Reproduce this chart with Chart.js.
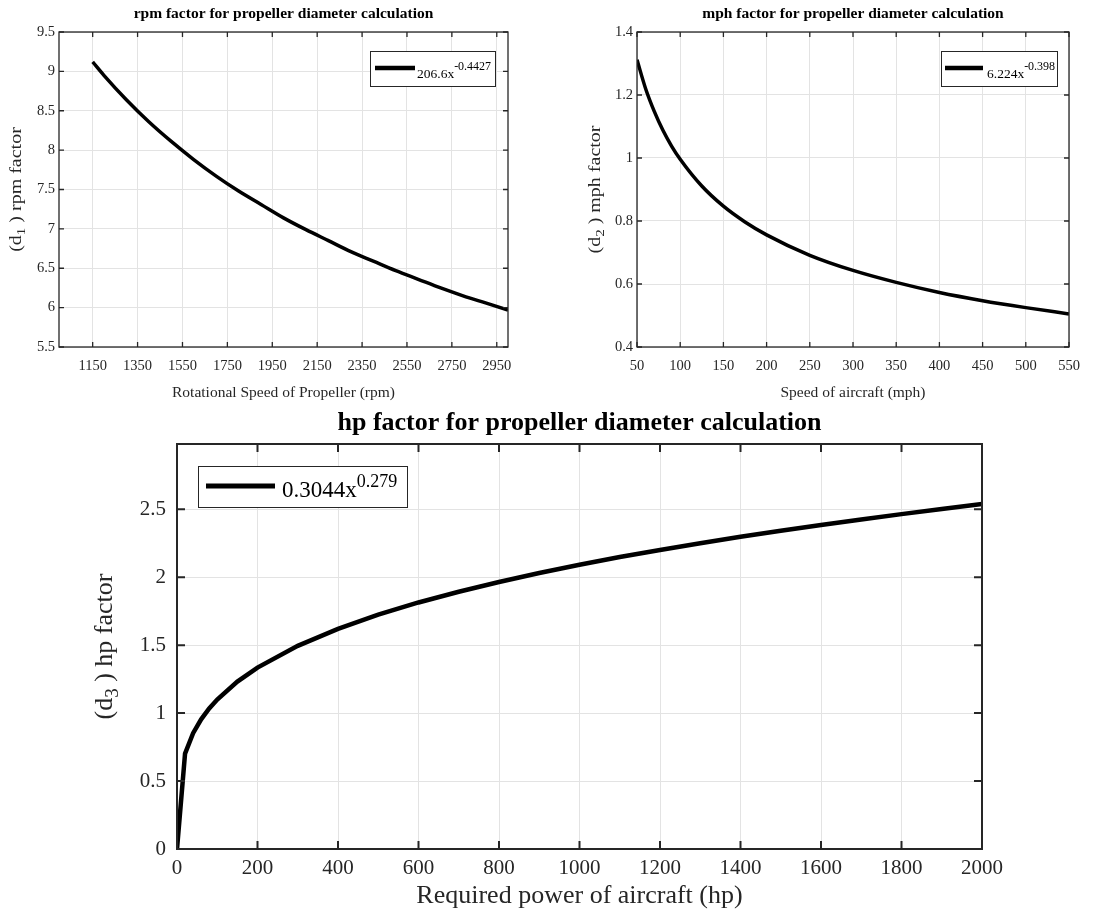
<!DOCTYPE html>
<html>
<head>
<meta charset="utf-8">
<script src="https://cdn.jsdelivr.net/npm/chart.js@4.4.1/dist/chart.umd.min.js"></script>
<style>
  body { margin:0; background:#fff; width:1095px; height:913px; position:relative; overflow:hidden; }
  canvas { position:absolute; }
</style>
</head>
<body>
<canvas id="c1" width="548" height="410" style="left:0;top:0"></canvas>
<canvas id="c2" width="547" height="410" style="left:548px;top:0"></canvas>
<canvas id="c3" width="1095" height="508" style="left:0;top:405px"></canvas>
<script>
// ---------- Data ----------
const rpmX = [1150,1200,1300,1400,1500,1600,1700,1800,1900,2000,2100,2200,2300,2400,2500,2600,2700,2800,2900,3000];
const rpmY = [9.12,8.95,8.64,8.36,8.11,7.88,7.67,7.48,7.31,7.14,6.99,6.85,6.71,6.59,6.47,6.36,6.25,6.15,6.06,5.97];
const rpmXTicks = [1150,1350,1550,1750,1950,2150,2350,2550,2750,2950];
const rpmYTicks = [5.5,6,6.5,7,7.5,8,8.5,9,9.5];

const mphX = [50,60,70,80,90,100,125,150,175,200,250,300,350,400,450,500,550];
const mphY = [1.312,1.220,1.148,1.088,1.038,0.996,0.911,0.847,0.797,0.756,0.691,0.643,0.605,0.573,0.547,0.525,0.505];
const mphXTicks = [50,100,150,200,250,300,350,400,450,500,550];
const mphYTicks = [0.4,0.6,0.8,1,1.2,1.4];

const hpX = [0,20,40,60,80,100,150,200,300,400,500,600,700,800,900,1000,1100,1200,1300,1400,1500,1600,1700,1800,1900,2000];
const hpY = [0,0.702,0.852,0.954,1.034,1.100,1.232,1.335,1.495,1.620,1.724,1.814,1.893,1.965,2.031,2.091,2.148,2.200,2.250,2.297,2.342,2.384,2.425,2.464,2.502,2.538];
const hpXTicks = [0,200,400,600,800,1000,1200,1400,1600,1800,2000];
const hpYTicks = [0,0.5,1,1.5,2,2.5];

Chart.defaults.font.family = '"Liberation Serif", "Times New Roman", serif';
Chart.defaults.color = '#262626';

// ---------- MATLAB-ish box, inward ticks, legend, y label ----------
const matlabPlugin = {
  id: 'matlab',
  afterDraw(chart, args, o) {
    const ctx = chart.ctx, a = chart.chartArea;
    const xs = chart.scales.x, ys = chart.scales.y;
    ctx.save();
    ctx.strokeStyle = '#262626';
    ctx.lineWidth = o.axisWidth;
    ctx.beginPath();
    xs.ticks.forEach(t => {
      const px = xs.getPixelForValue(t.value);
      ctx.moveTo(px, a.bottom); ctx.lineTo(px, a.bottom - o.tickLen);
      ctx.moveTo(px, a.top); ctx.lineTo(px, a.top + o.tickLen);
    });
    ys.ticks.forEach(t => {
      const py = ys.getPixelForValue(t.value);
      ctx.moveTo(a.left, py); ctx.lineTo(a.left + o.tickLen, py);
      ctx.moveTo(a.right, py); ctx.lineTo(a.right - o.tickLen, py);
    });
    ctx.stroke();
    ctx.strokeRect(a.left, a.top, a.right - a.left, a.bottom - a.top);

    // legend box
    const L = o.legend;
    const bx = a.left + L.left, by = a.top + L.top;
    ctx.fillStyle = '#fff';
    ctx.fillRect(bx, by, L.w, L.h);
    ctx.strokeStyle = '#262626'; ctx.lineWidth = 1;
    ctx.strokeRect(bx + 0.5, by + 0.5, L.w, L.h);
    ctx.strokeStyle = '#000'; ctx.lineWidth = L.lineWidth;
    ctx.beginPath();
    ctx.moveTo(bx + L.lineX0, by + L.lineY);
    ctx.lineTo(bx + L.lineX1, by + L.lineY);
    ctx.stroke();
    ctx.fillStyle = '#000';
    ctx.textAlign = 'left'; ctx.textBaseline = 'alphabetic';
    ctx.font = L.size + 'px "Liberation Serif"';
    ctx.fillText(L.text, bx + L.textX, by + L.baseline);
    const tw = ctx.measureText(L.text).width;
    ctx.font = L.supSize + 'px "Liberation Serif"';
    ctx.fillText(L.sup, bx + L.textX + tw, by + L.baseline - L.supRise);

    // y label with subscript
    const T = o.ytitle;
    ctx.translate(T.x, (a.top + a.bottom) / 2);
    ctx.rotate(-Math.PI / 2);
    ctx.scale(1, T.squeeze);
    ctx.fillStyle = '#262626';
    ctx.textBaseline = 'middle';
    ctx.font = T.size + 'px "Liberation Serif"';
    const w1 = ctx.measureText(T.pre).width, w3 = ctx.measureText(T.post).width;
    ctx.font = T.subSize + 'px "Liberation Serif"';
    const w2 = ctx.measureText(T.sub).width;
    const x0 = -(w1 + w2 + w3) / 2;
    ctx.font = T.size + 'px "Liberation Serif"';
    ctx.fillText(T.pre, x0, 0);
    ctx.fillText(T.post, x0 + w1 + w2, 0);
    ctx.font = T.subSize + 'px "Liberation Serif"';
    ctx.fillText(T.sub, x0 + w1, T.subDrop);
    ctx.restore();
  }
};

function pts(xs, ys) { return xs.map((x, i) => ({ x, y: ys[i] })); }

function makeChart(id, cfg) {
  return new Chart(document.getElementById(id), {
    type: 'line',
    data: { datasets: [{
      data: pts(cfg.x, cfg.y),
      borderColor: '#000', borderWidth: cfg.lineWidth,
      pointRadius: 0, fill: false,
      cubicInterpolationMode: cfg.smooth ? 'monotone' : 'default', tension: 0
    }]},
    options: {
      responsive: false, animation: false,
      layout: { padding: { left: 0, right: cfg.padRight, top: 0, bottom: 0 } },
      plugins: {
        legend: { display: false },
        tooltip: { enabled: false },
        title: {
          display: true, text: cfg.title, fullSize: false, color: '#000',
          font: { size: cfg.titleSize, weight: 'bold' },
          padding: cfg.titlePad
        },
        matlab: cfg.matlab
      },
      scales: {
        x: {
          type: 'linear', min: cfg.xMin, max: cfg.xMax,
          afterBuildTicks: s => { s.ticks = cfg.xTicks.map(v => ({ value: v })); },
          afterFit: s => { s.height = cfg.xHeight; },
          ticks: { font: { size: cfg.tickSize }, padding: cfg.xTickPad, maxRotation: 0, autoSkip: false,
                   callback: v => String(v) },
          grid: { color: '#e3e3e3', drawTicks: false },
          border: { display: false },
          title: { display: true, text: cfg.xTitle, font: { size: cfg.axisSize },
                   padding: { top: 0, bottom: cfg.xTitlePad } }
        },
        y: {
          type: 'linear', min: cfg.yMin, max: cfg.yMax,
          afterBuildTicks: s => { s.ticks = cfg.yTicks.map(v => ({ value: v })); },
          afterFit: s => { s.width = cfg.yWidth; },
          ticks: { font: { size: cfg.tickSize }, padding: cfg.yTickPad, callback: v => String(v) },
          grid: { color: '#e3e3e3', drawTicks: false },
          border: { display: false }
        }
      }
    },
    plugins: [matlabPlugin]
  });
}

makeChart('c1', {
  x: rpmX, y: rpmY, xTicks: rpmXTicks, yTicks: rpmYTicks,
  xMin: 1000, xMax: 3000, yMin: 5.5, yMax: 9.5,
  smooth: true, lineWidth: 3.5,
  title: 'rpm factor for propeller diameter calculation', titleSize: 15.5, titlePad: { top: 5, bottom: 8.4 },
  xTitle: 'Rotational Speed of Propeller (rpm)', axisSize: 15.5, xTitlePad: 7.7,
  tickSize: 14.5, xTickPad: 10, yTickPad: 4,
  padRight: 40, yWidth: 59, xHeight: 63,
  matlab: {
    axisWidth: 1.3, tickLen: 5,
    legend: { left: 311, top: 19, w: 125, h: 35, lineX0: 5, lineX1: 45, lineY: 17, lineWidth: 4.5,
              textX: 47, baseline: 27, size: 13.5, supSize: 12, supRise: 8, text: '206.6x', sup: '-0.4427' },
    ytitle: { x: 17, size: 20, subSize: 15, subDrop: 6, squeeze: 0.8, pre: '(d', sub: '1', post: ' ) rpm factor' }
  }
});

makeChart('c2', {
  x: mphX, y: mphY, xTicks: mphXTicks, yTicks: mphYTicks,
  xMin: 50, xMax: 550, yMin: 0.4, yMax: 1.4,
  smooth: true, lineWidth: 3.5,
  title: 'mph factor for propeller diameter calculation', titleSize: 15.5, titlePad: { top: 5, bottom: 8.4 },
  xTitle: 'Speed of aircraft (mph)', axisSize: 15.5, xTitlePad: 7.7,
  tickSize: 14.5, xTickPad: 10, yTickPad: 4,
  padRight: 26, yWidth: 89, xHeight: 63,
  matlab: {
    axisWidth: 1.3, tickLen: 5,
    legend: { left: 304, top: 19, w: 116, h: 35, lineX0: 4, lineX1: 42, lineY: 17, lineWidth: 4.5,
              textX: 46, baseline: 27, size: 13.5, supSize: 12, supRise: 8, text: '6.224x', sup: '-0.398' },
    ytitle: { x: 48, size: 20, subSize: 15, subDrop: 6, squeeze: 0.8, pre: '(d', sub: '2', post: ' ) mph factor' }
  }
});

makeChart('c3', {
  x: hpX, y: hpY, xTicks: hpXTicks, yTicks: hpYTicks,
  xMin: 0, xMax: 2000, yMin: 0, yMax: 2.98,
  smooth: false, lineWidth: 4.5,
  title: 'hp factor for propeller diameter calculation', titleSize: 26, titlePad: { top: 3, bottom: 4.8 },
  xTitle: 'Required power of aircraft (hp)', axisSize: 26, xTitlePad: 1.4,
  tickSize: 21, xTickPad: 7, yTickPad: 11,
  padRight: 113, yWidth: 177, xHeight: 64,
  matlab: {
    axisWidth: 2, tickLen: 8,
    legend: { left: 21, top: 22, w: 209, h: 41, lineX0: 8, lineX1: 77, lineY: 20, lineWidth: 5,
              textX: 84, baseline: 31, size: 23, supSize: 18, supRise: 10, text: '0.3044x', sup: '0.279' },
    ytitle: { x: 105, size: 26, subSize: 19, subDrop: 8, squeeze: 1, pre: '(d', sub: '3', post: ' ) hp factor' }
  }
});
</script>
</body>
</html>
